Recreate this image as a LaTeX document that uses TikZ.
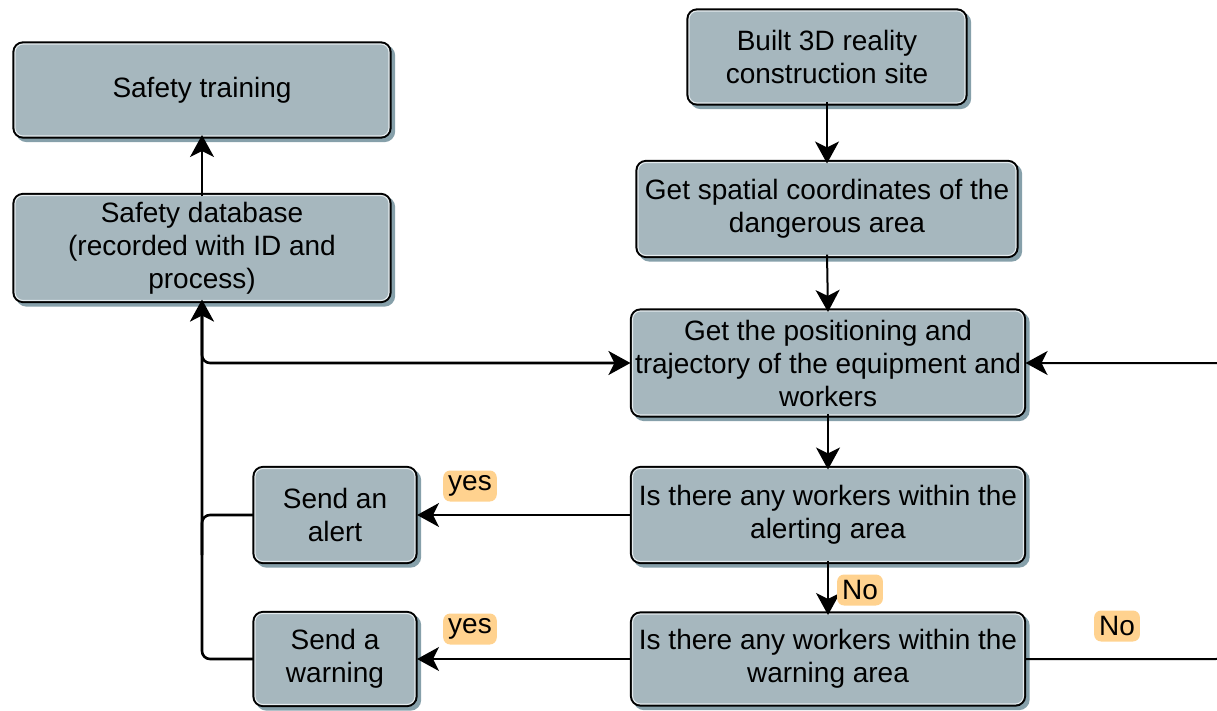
\documentclass[tikz,border=0pt]{standalone}
\usepackage{fontspec}
\setmainfont{Liberation Sans}
\usetikzlibrary{arrows.meta}
\definecolor{boxfill}{HTML}{A6B7BE}
\definecolor{boxshade}{HTML}{86A0AA}
\definecolor{boxrim}{HTML}{E4EBEE}
\definecolor{tagfill}{HTML}{FFD28F}

\begin{document}
\begin{tikzpicture}[x=1pt,y=-1pt,
  % box: soft drop shadow, thick black rim, thin light inner rim
  stepbox/.style={draw=boxrim, line width=1.1pt, fill=boxfill, rounded corners=8pt,
    align=center, inner sep=0pt, font=\fontsize{28}{33}\selectfont,
    preaction={draw=boxshade, fill=boxshade, line width=5.2pt,
      transform canvas={xshift=3.5pt,yshift=-3.5pt}},
    preaction={draw=black, line width=5.2pt}},
  tag/.style={fill=tagfill, rounded corners=7pt, inner xsep=5pt, inner ysep=3pt,
    minimum height=31pt, font=\fontsize{28}{30}\selectfont},
  conn/.style={draw=black, line width=2pt,
    -{Stealth[length=22pt,width=24pt,inset=6pt]}},
  loopline/.style={draw=black, line width=2.6pt},
  plain/.style={draw=black, line width=2pt}]
\useasboundingbox (0,0) rectangle (1217,711);

% left column
\node[stepbox, minimum width=374pt, minimum height=92pt] (train) at (202,90) {Safety training};
\node[stepbox, minimum width=374pt, minimum height=105pt] (db) at (202,248)
  {Safety database\\(recorded with ID and\\process)};

% main flow
\node[stepbox, minimum width=276pt, minimum height=92pt] (site) at (827,57)
  {Built 3D reality\\construction site};
\node[stepbox, minimum width=378pt, minimum height=93pt] (coord) at (827,209)
  {Get spatial coordinates of the\\dangerous area};
\node[stepbox, minimum width=391pt, minimum height=104pt] (pos) at (828,363)
  {Get the positioning and\\trajectory of the equipment and\\workers};
\node[stepbox, minimum width=391pt, minimum height=93pt] (aq) at (828,515)
  {Is there any workers within the\\alerting area};
\node[stepbox, minimum width=391pt, minimum height=90pt] (wq) at (828,659)
  {Is there any workers within the\\warning area};

% actions
\node[stepbox, minimum width=160pt, minimum height=93pt] (sa) at (335,515)
  {Send an\\alert};
\node[stepbox, minimum width=160pt, minimum height=91pt] (sw) at (335,659)
  {Send a\\warning};

% vertical flow arrows
\draw[conn] ([yshift=1.5pt]site.south) -- ([yshift=-1.5pt]coord.north);
\draw[conn] ([yshift=1.5pt]coord.south) -- ([yshift=-1.5pt]pos.north);
\draw[conn] ([yshift=1.5pt]pos.south) -- ([yshift=-1.5pt]aq.north);
\draw[conn] ([yshift=1.5pt]aq.south) -- ([yshift=-1.5pt]wq.north);
\draw[conn] ([yshift=-1.5pt]db.north) -- ([yshift=1.5pt]train.south);

% decisions to actions
\draw[conn] ([xshift=-1.5pt]aq.west) -- ([xshift=1.5pt]sa.east);
\draw[conn] ([xshift=-1.5pt]wq.west) -- ([xshift=1.5pt]sw.east);

% feedback on the left
\draw[conn, loopline, rounded corners=8pt] ([xshift=-1.5pt]sw.west) -| ([yshift=1.5pt]db.south);
\draw[loopline, rounded corners=8pt] ([xshift=-1.5pt]sa.west) -| ([yshift=-40pt]db.south |- sa.west);
\draw[conn, loopline, rounded corners=8pt] ([yshift=60pt]db.south |- pos.west) |- ([xshift=-1.5pt]pos.west);

% feedback on the right (its return leg runs just past the page edge)
\coordinate (rb) at (1224,659);
\coordinate (rt) at (1224,363);
\draw[conn, rounded corners=8pt] ([xshift=1.5pt]wq.east) -- (rb) -- (rt) -- ([xshift=1.5pt]pos.east);

% branch labels
\node[tag] (y1) at (470,486) {yes};
\node[tag] (y2) at (470,629) {yes};
\node[tag] (n1) at (860,590) {No};
\node[tag] (n2) at (1117,626) {No};
\end{tikzpicture}
\end{document}
